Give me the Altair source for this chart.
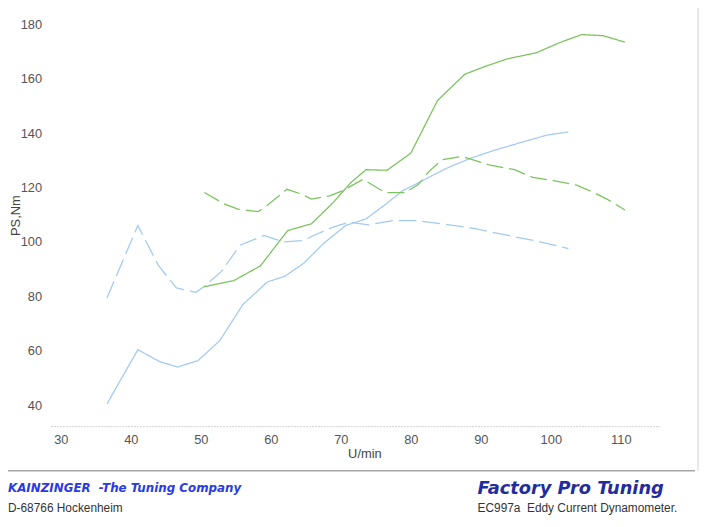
import altair as alt
import pandas as pd

# ---- data ----
blue_ps_rpm = [36.6, 41.0, 44.1, 46.7, 49.6, 52.7, 56.0, 59.5, 62.0, 64.7, 67.5, 70.7, 73.6, 76.4, 78.8, 81.6, 85.0, 88.6, 92.0, 95.3, 99.4, 102.5]
blue_ps_val = [40.5, 60.4, 56.0, 54.0, 56.4, 63.7, 77.0, 85.3, 87.4, 92.2, 99.4, 106.1, 108.5, 113.9, 118.8, 122.5, 127.0, 130.9, 133.8, 136.3, 139.3, 140.5]

blue_nm_rpm = [36.6, 41.0, 43.9, 46.5, 49.3, 50.5, 52.9, 55.6, 59.0, 61.8, 64.7, 66.1, 68.9, 71.2, 74.0, 77.4, 80.7, 84.4, 89.2, 93.9, 98.6, 102.5]
blue_nm_val = [79.5, 106.1, 91.5, 83.1, 81.5, 83.7, 89.1, 98.8, 102.4, 100.0, 100.6, 102.4, 105.5, 107.3, 106.3, 107.9, 107.9, 106.7, 104.9, 102.4, 100.0, 97.6]

green_ps_rpm = [50.4, 54.7, 58.5, 62.4, 65.8, 68.9, 71.4, 73.6, 76.6, 80.0, 83.8, 87.7, 90.5, 93.8, 97.9, 101.4, 104.4, 107.5, 110.6]
green_ps_val = [83.5, 85.8, 91.2, 104.2, 106.7, 114.5, 121.8, 126.6, 126.4, 132.7, 152.0, 161.7, 164.5, 167.4, 169.6, 173.5, 176.3, 175.9, 173.5]

green_nm_rpm = [50.5, 53.4, 55.3, 58.2, 59.4, 62.3, 64.4, 65.8, 68.4, 70.2, 73.1, 74.0, 76.3, 79.2, 81.1, 82.6, 84.5, 87.3, 91.0, 94.8, 97.4, 100.4, 103.7, 106.1, 108.0, 110.6]
green_nm_val = [118.2, 113.9, 112.1, 111.2, 113.3, 119.4, 117.6, 115.8, 117.0, 118.8, 123.0, 121.8, 118.2, 118.2, 121.2, 126.0, 130.3, 131.5, 128.5, 126.6, 123.8, 122.6, 120.9, 118.2, 115.8, 111.8]

x_ticks = [30, 40, 50, 60, 70, 80, 90, 100, 110]
y_ticks = [40, 60, 80, 100, 120, 140, 160, 180]

series_names = ["blue_ps", "blue_nm", "green_ps", "green_nm"]
series_colors = ["#a3cbef", "#a3cbef", "#7cc35f", "#7cc35f"]
series_dash = [[1, 0], [18, 6], [1, 0], [17, 6]]

rows = []
for name, xs, ys in [
    ("blue_ps", blue_ps_rpm, blue_ps_val),
    ("blue_nm", blue_nm_rpm, blue_nm_val),
    ("green_ps", green_ps_rpm, green_ps_val),
    ("green_nm", green_nm_rpm, green_nm_val),
]:
    for i, (a, b) in enumerate(zip(xs, ys)):
        rows.append({"rpm": a, "val": b, "series": name, "ord": i})
df = pd.DataFrame(rows)

W, H = 616, 420

lines = alt.Chart(df).mark_line(strokeWidth=1.3).encode(
    x=alt.X("rpm:Q", scale=alt.Scale(domain=[28.52, 115.52], nice=False, zero=False),
            axis=alt.Axis(values=x_ticks, title=None, grid=False, ticks=False,
                          domainColor="#cfcfcf", domainDash=[2, 1], domainWidth=1,
                          labelFont="Liberation Sans", labelFontSize=13, labelColor="#555555",
                          labelPadding=8, labelFlush=False)),
    y=alt.Y("val:Q", scale=alt.Scale(domain=[32.25, 185.0], nice=False, zero=False),
            axis=alt.Axis(values=y_ticks, title=None, grid=False, ticks=False, domain=False,
                          labelFont="Liberation Sans", labelFontSize=13, labelColor="#555555",
                          labelPadding=9, labelFlush=False)),
    color=alt.Color("series:N", scale=alt.Scale(domain=series_names, range=series_colors), legend=None),
    strokeDash=alt.StrokeDash("series:N", scale=alt.Scale(domain=series_names, range=series_dash), legend=None),
    order="ord:Q",
)

def txt(s, x, y, size, color, weight="normal", style="normal", font="Liberation Sans", align="left", angle=0):
    kw = dict(text=s, fontSize=size, color=color, fontWeight=weight, fontStyle=style,
              font=font, align=align, baseline="middle")
    if angle:
        kw["angle"] = angle
    return alt.Chart(pd.DataFrame({"a": [0]})).mark_text(**kw).encode(
        x=alt.value(x), y=alt.value(y))

x_title = txt("U/min", 318, 448, 13, "#444444", align="center")
y_title = txt("PS,Nm", -35, 207, 13, "#444444", align="center", angle=270)

footer_rule = alt.Chart(pd.DataFrame({"a": [0]})).mark_rule(color="#a5a5a5", strokeWidth=1.5).encode(
    x=alt.value(-43), x2=alt.value(652), y=alt.value(465))
right_rule = alt.Chart(pd.DataFrame({"a": [0]})).mark_rule(color="#e8e8e8", strokeWidth=2).encode(
    x=alt.value(655), y=alt.value(-8), y2=alt.value(465))

t1 = txt("KAINZINGER \u00a0-The Tuning Company", -43, 483, 12, "#2a3ae6", weight="bold", style="italic", font="DejaVu Sans")
t2 = txt("D-68766 Hockenheim", -43, 503, 12, "#333333")
t3 = txt("Factory Pro Tuning", 432, 484, 18, "#1f2d9e", weight="bold", style="italic", font="DejaVu Sans")
t4 = txt("EC997a \u00a0Eddy Current Dynamometer.", 432, 503, 12, "#333333")

chart = alt.layer(lines, x_title, y_title, footer_rule, right_rule, t1, t2, t3, t4).properties(
    width=W, height=H,
    padding={"left": 43, "top": 0, "right": 41, "bottom": 99},
    autosize=alt.AutoSizeParams(type="none"),
    background="white",
).configure_view(stroke=None, strokeWidth=0)

chart.save("out.html", embed_options={"renderer": "svg", "actions": False})
